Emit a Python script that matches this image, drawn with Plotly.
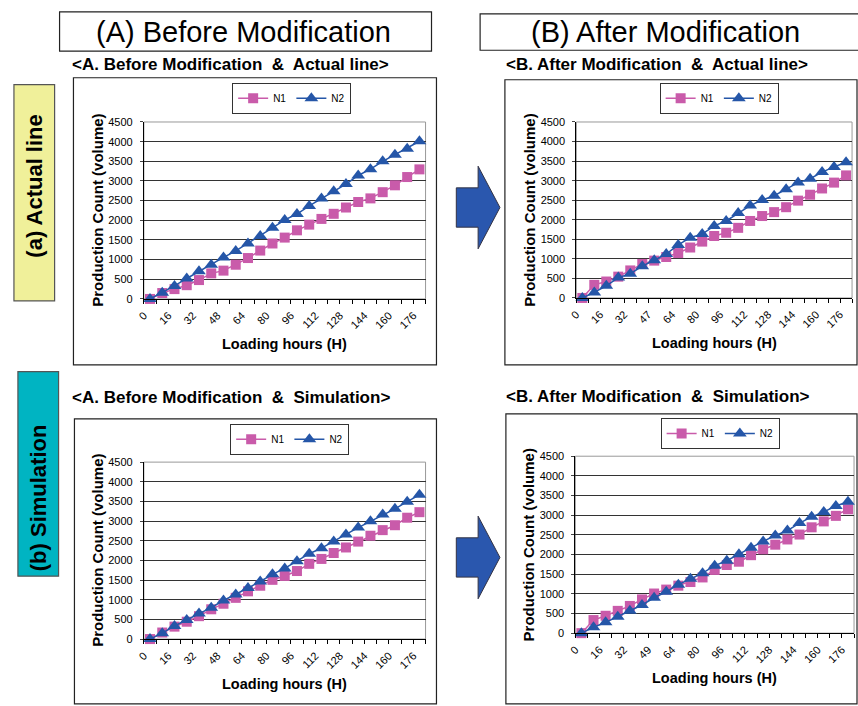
import plotly.graph_objects as go

W, H = 858, 706

hours = [0, 8, 16, 24, 32, 40, 48, 56, 64, 72, 80, 88, 96, 104, 112, 120, 128, 136, 144, 152, 160, 168, 176]
tick_hours = [0, 16, 32, 48, 64, 80, 96, 112, 128, 144, 160, 176]
ticks_left = ["0", "16", "32", "48", "64", "80", "96", "112", "128", "144", "160", "176"]
ticks_top_right = ["0", "16", "32", "47", "64", "80", "96", "112", "128", "144", "160", "176"]
ticks_bottom_right = ["0", "16", "32", "49", "64", "80", "96", "112", "128", "144", "160", "176"]

before_actual_n1 = [0, 150, 250, 350, 480, 650, 720, 870, 1040, 1230, 1410, 1560, 1745, 1890, 2035, 2165, 2325, 2465, 2557, 2715, 2890, 3100, 3295]
before_actual_n2 = [0, 160, 330, 520, 705, 870, 1055, 1220, 1410, 1600, 1810, 2010, 2160, 2365, 2557, 2740, 2920, 3140, 3300, 3500, 3670, 3820, 4010]
after_actual_n1 = [0, 335, 420, 545, 704, 870, 955, 1047, 1148, 1290, 1441, 1584, 1668, 1793, 1969, 2095, 2195, 2321, 2489, 2640, 2800, 2950, 3134]
after_actual_n2 = [0, 142, 310, 520, 620, 813, 964, 1123, 1357, 1542, 1634, 1843, 1969, 2170, 2363, 2505, 2615, 2782, 2950, 3050, 3218, 3352, 3469]
before_sim_n1 = [0, 166, 316, 441, 582, 757, 898, 1048, 1214, 1356, 1506, 1605, 1730, 1913, 2038, 2188, 2329, 2479, 2628, 2770, 2895, 3086, 3227]
before_sim_n2 = [0, 150, 333, 482, 649, 798, 981, 1131, 1298, 1464, 1647, 1797, 1980, 2171, 2312, 2479, 2662, 2836, 2994, 3169, 3311, 3494, 3668]
after_sim_n1 = [0, 333, 442, 567, 692, 858, 1008, 1108, 1208, 1300, 1417, 1608, 1733, 1817, 1983, 2133, 2250, 2383, 2508, 2692, 2842, 2983, 3150]
after_sim_n2 = [0, 150, 275, 417, 567, 717, 900, 1050, 1233, 1383, 1525, 1717, 1842, 2008, 2175, 2333, 2483, 2608, 2800, 2958, 3083, 3233, 3342]

headers = ["(A) Before Modification", "(B) After Modification"]
subtitles = ["<A. Before Modification  &  Actual line>", "<B. After Modification  &  Actual line>",
             "<A. Before Modification  &  Simulation>", "<B. After Modification  &  Simulation>"]
row_labels = ["(a) Actual line", "(b) Simulation"]

PINK = "#C95BAA"
BLUE = "#2556A8"
FONT = "Liberation Sans"


def px(x):
    return x / W


def py(y):
    return 1 - y / H


# chart geometry in pixels: (plot left, right, top, bottom), box (l, t, r, b), legend (x, y)
charts = [
    dict(n1=before_actual_n1, n2=before_actual_n2, ticks=ticks_left, plot=(138, 422, 118, 298), box=(67, 73, 433, 365), leg=(227, 78)),
    dict(n1=after_actual_n1, n2=after_actual_n2, ticks=ticks_top_right, plot=(574, 852, 118, 297), box=(502, 75, 857, 365), leg=(658, 78)),
    dict(n1=before_sim_n1, n2=before_sim_n2, ticks=ticks_left, plot=(138, 422, 464, 644), box=(68, 420, 433, 710), leg=(225, 425)),
    dict(n1=after_sim_n1, n2=after_sim_n2, ticks=ticks_bottom_right, plot=(573, 854, 458, 638), box=(503, 415, 857, 710), leg=(659, 419)),
]

fig = go.Figure()
shapes = []
annotations = []
layout = dict(
    width=W, height=H, margin=dict(l=0, r=0, t=0, b=0),
    paper_bgcolor="white", plot_bgcolor="white",
    font=dict(family=FONT, color="black"),
)

for i, c in enumerate(charts):
    k = "" if i == 0 else str(i + 1)
    xa, ya = "x" + k, "y" + k
    leg = "legend" + k
    l, r, t, b = c["plot"]
    fig.add_trace(go.Scatter(x=hours, y=c["n1"], name="N1", mode="lines+markers", xaxis=xa, yaxis=ya,
                             line=dict(color=PINK, width=1.5),
                             marker=dict(symbol="square", size=10, color=PINK, line=dict(width=0)),
                             legend=leg, cliponaxis=False))
    fig.add_trace(go.Scatter(x=hours, y=c["n2"], name="N2", mode="lines+markers", xaxis=xa, yaxis=ya,
                             line=dict(color=BLUE, width=1.5),
                             marker=dict(symbol="triangle-up", size=12, color=BLUE, line=dict(width=0)),
                             legend=leg, cliponaxis=False))
    layout["xaxis" + k] = dict(
        domain=[px(l), px(r)], anchor=ya, range=[-4, 180],
        tickvals=tick_hours, ticktext=c["ticks"], tickangle=-45,
        tickfont=dict(size=11, family=FONT), ticks="", showgrid=False, zeroline=False,
        showline=True, linecolor="black", linewidth=1,
        ticklabelshift=-6, ticklabelstandoff=5,
        minor=dict(tick0=-4, dtick=8, ticks="outside", ticklen=4, tickcolor="black", showgrid=False),
    )
    layout["yaxis" + k] = dict(
        domain=[py(b), py(t)], anchor=xa, range=[0, 4500], dtick=500,
        tickfont=dict(size=11, family=FONT), showgrid=True, gridcolor="#333333", gridwidth=1,
        zeroline=False, showline=True, linecolor="black", linewidth=1, ticks="outside", ticklen=3,
        ticklabelstandoff=5,
    )
    lx, ly = c["leg"]
    layout[leg] = dict(
        x=px(lx), y=py(ly), xanchor="left", yanchor="top", orientation="h",
        bordercolor="#333333", borderwidth=1, bgcolor="white",
        font=dict(size=10, family=FONT), itemwidth=30, tracegroupgap=0,
    )
    # outer chart frame
    bl, bt, br, bb = c["box"]
    shapes.append(dict(type="rect", xref="paper", yref="paper", x0=px(bl), x1=px(br), y0=py(bb), y1=py(bt),
                       line=dict(color="#222222", width=1.2), layer="below"))
    # plot area outline (grey top/right)
    shapes.append(dict(type="rect", xref="paper", yref="paper", x0=px(l), x1=px(r), y0=py(b), y1=py(t),
                       line=dict(color="#999999", width=1), layer="below"))
    # axis titles
    annotations.append(dict(text="<b>Production Count (volume)</b>", xref="paper", yref="paper",
                            x=px(l - 47), y=py((t + b) / 2), textangle=-90, showarrow=False,
                            font=dict(size=15, family=FONT), xanchor="center", yanchor="middle"))
    annotations.append(dict(text="<b>Loading hours (H)</b>", xref="paper", yref="paper",
                            x=px((l + r) / 2), y=py(b + 46), showarrow=False,
                            font=dict(size=14.5, family=FONT), xanchor="center", yanchor="middle"))

# header boxes
for (x0, y0, x1, y1), txt in zip([(53, 6, 428, 46), (477, 8, 859, 45)], headers):
    shapes.append(dict(type="rect", xref="paper", yref="paper", x0=px(x0), x1=px(x1), y0=py(y1), y1=py(y0),
                       line=dict(color="#222222", width=1.2)))
    annotations.append(dict(text=txt, xref="paper", yref="paper", x=px((x0 + min(x1, 855)) / 2 - 2),
                            y=py((y0 + y1) / 2), showarrow=False, font=dict(size=29, family=FONT),
                            xanchor="center", yanchor="middle"))

# subtitles
for (x0, yc), txt in zip([(64, 60), (501, 60), (64, 398), (501, 397)], subtitles):
    annotations.append(dict(text="<b>" + txt.replace("<", "&lt;").replace(">", "&gt;") + "</b>",
                            xref="paper", yref="paper", x=px(x0), y=py(yc), showarrow=False,
                            font=dict(size=17, family=FONT), xanchor="left", yanchor="middle"))

# row label boxes
for (x0, y0, x1, y1), col, txt, tc in zip([(7, 80, 48, 300), (11, 372, 52, 580)], ["#F0F09A", "#00B4C2"],
                                          row_labels, [(28, 183), (32, 500)]):
    shapes.append(dict(type="rect", xref="paper", yref="paper", x0=px(x0), x1=px(x1), y0=py(y1), y1=py(y0),
                       fillcolor=col, line=dict(color="#555555", width=1.2), layer="below"))
    annotations.append(dict(text="<b>" + txt + "</b>", xref="paper", yref="paper", x=px(tc[0]), y=py(tc[1]),
                            textangle=-90, showarrow=False, font=dict(size=22, family=FONT),
                            xanchor="center", yanchor="middle"))

# arrows
for yc in (205, 561):
    pts = [(453, yc - 20), (475, yc - 20), (475, yc - 42), (497, yc), (475, yc + 42), (475, yc + 20), (453, yc + 20)]
    path = "M " + " L ".join(f"{px(x)},{py(y)}" for x, y in pts) + " Z"
    shapes.append(dict(type="path", xref="paper", yref="paper", path=path, fillcolor="#2A57AE",
                       line=dict(color="#333344", width=1)))

layout["shapes"] = shapes
layout["annotations"] = annotations
fig.update_layout(**layout)
fig.write_html("out.html", config={"displayModeBar": False},
               post_script="document.body.style.margin='0';document.body.style.overflow='hidden';")
